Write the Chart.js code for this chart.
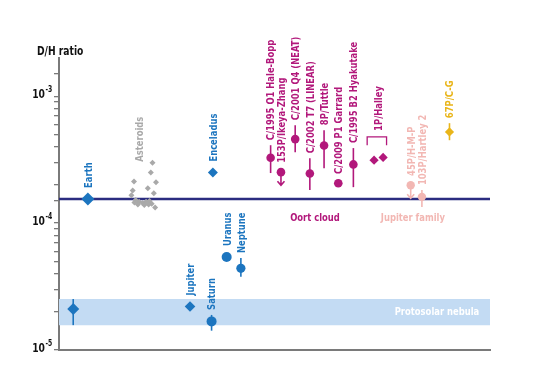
<!DOCTYPE html>
<html>
<head>
<meta charset="utf-8">
<script src="https://cdn.jsdelivr.net/npm/chart.js@4.4.1/dist/chart.umd.min.js"></script>
<style>
  html, body { margin: 0; padding: 0; background: #fff; }
  canvas { display: block; }
</style>
</head>
<body>
<canvas id="dh-chart" width="552" height="379"></canvas>
<script>
// D/H ratio of water (and H2 for the nebula / giant planets)
// x is only a slot along the horizontal axis (no units)

// solar system bodies
const bodyNames = ['', 'Earth', 'Jupiter', 'Saturn', 'Uranus', 'Neptune', 'Enceladus'];
const bodyX     = [3.3, 6.7, 30.4, 35.4, 38.9, 42.2, 35.7];
const bodyDH    = [2.1e-5, 1.55e-4, 2.2e-5, 1.68e-5, 5.4e-5, 4.4e-5, 2.5e-4];
const bodyLo    = [1.57e-5, null, null, 1.42e-5, null, 3.78e-5, null];
const bodyHi    = [2.52e-5, null, null, 1.89e-5, null, 5.3e-5, null];

// asteroids (carbonaceous chondrites)
const asteroidX  = [21.7, 21.3, 22.5, 17.4, 17.1, 20.6, 22.0, 16.8, 17.8, 18.6, 19.4, 20.2, 21.0, 18.3, 19.8, 21.5, 22.3, 17.5, 20.8];
const asteroidDH = [2.99e-4, 2.51e-4, 2.1e-4, 2.13e-4, 1.81e-4, 1.88e-4, 1.72e-4, 1.66e-4, 1.52e-4, 1.47e-4, 1.44e-4, 1.47e-4, 1.49e-4, 1.4e-4, 1.39e-4, 1.42e-4, 1.33e-4, 1.45e-4, 1.4e-4];

// Oort cloud comets
const oortNames = ['C/1995 O1 Hale-Bopp', '153P/Ikeya-Zhang', 'C/2001 Q4 (NEAT)', 'C/2002 T7 (LINEAR)', '8P/Tuttle', 'C/2009 P1 Garrard', 'C/1995 B2 Hyakutake'];
const oortX     = [49.1, 51.5, 54.8, 58.2, 61.5, 64.8, 68.3];
const oortDH    = [3.27e-4, 2.52e-4, 4.59e-4, 2.46e-4, 4.09e-4, 2.06e-4, 2.9e-4];
const oortLo    = [2.48e-4, null, 3.62e-4, 1.82e-4, 2.71e-4, null, 1.92e-4];
const oortHi    = [4.11e-4, null, 5.91e-4, 3.25e-4, 5.4e-4, null, 3.9e-4];
const oortUpper = [false, true, false, false, false, false, false];

// 1P/Halley (two measurements)
const halleyX  = [73.1, 75.2];
const halleyDH = [3.13e-4, 3.29e-4];

// Jupiter family comets
const jfcNames = ['45P/H-M-P', '103P/Hartley 2'];
const jfcX     = [81.6, 84.2];
const jfcDH    = [1.99e-4, 1.61e-4];
const jfcLo    = [null, 1.34e-4];
const jfcHi    = [null, 1.82e-4];
const jfcUpper = [true, false];

// 67P/Churyumov-Gerasimenko (Rosetta)
const cgX  = [90.6];
const cgDH = [5.23e-4];
const cgLo = [4.5e-4];
const cgHi = [6.13e-4];

// reference levels
const earthDH = 1.55e-4;
const nebulaLo = 1.57e-5;
const nebulaHi = 2.52e-5;

// y axis
const yMin = 1e-5;
const yMax = 2e-3;
const yTickExps = [-5, -4, -3];

const BLUE = '#1c75bf';
const MAGENTA = '#b2187b';
const PINK = '#f2b7b3';
const GOLD = '#e9b51a';
const GREY = '#a9a9a9';
const NAVY = '#2b2c80';
const FAMILY = "'DejaVu Sans Condensed', 'DejaVu Sans', sans-serif";
const LABEL_FONT = 'bold 11px ' + FAMILY;
const SQUEEZE = 0.85;   // narrow the condensed font a bit more

function pts(xs, ys) {
    return xs.map((x, i) => ({x: x, y: ys[i]}));
}

const bodyStyle  = ['rectRot', 'rectRot', 'rectRot', 'circle', 'circle', 'circle', 'rectRot'];
const bodyRadius = [6, 6.5, 5.3, 5, 5, 4.6, 5];

const datasets = [
    {label: 'bodies', data: pts(bodyX, bodyDH), backgroundColor: BLUE, borderWidth: 0,
     pointStyle: bodyStyle, pointRadius: bodyRadius},
    {label: 'asteroids', data: pts(asteroidX, asteroidDH), backgroundColor: GREY, borderWidth: 0,
     pointStyle: 'rectRot', pointRadius: 3},
    {label: 'oort', data: pts(oortX, oortDH), backgroundColor: MAGENTA, borderWidth: 0,
     pointStyle: 'circle', pointRadius: 4.3},
    {label: 'halley', data: pts(halleyX, halleyDH), backgroundColor: MAGENTA, borderWidth: 0,
     pointStyle: 'rectRot', pointRadius: 4.6},
    {label: 'jfc', data: pts(jfcX, jfcDH), backgroundColor: PINK, borderWidth: 0,
     pointStyle: 'circle', pointRadius: 4.2},
    {label: '67P', data: pts(cgX, cgDH), backgroundColor: GOLD, borderWidth: 0,
     pointStyle: 'rectRot', pointRadius: 4.6},
    // Earth ocean water (VSMOW)
    {type: 'line', label: 'earth', data: [{x: 0, y: earthDH}, {x: 100, y: earthDH}],
     borderColor: NAVY, borderWidth: 2.5, pointRadius: 0, fill: false},
    // protosolar band
    {type: 'line', label: 'nebulaHi', data: [{x: 0, y: nebulaHi}, {x: 100, y: nebulaHi}],
     borderWidth: 0, pointRadius: 0, fill: '+1', backgroundColor: '#c3dbf3'},
    {type: 'line', label: 'nebulaLo', data: [{x: 0, y: nebulaLo}, {x: 100, y: nebulaLo}],
     borderWidth: 0, pointRadius: 0, fill: false}
];

function vLabel(ctx, text, x, yBottom, color) {
    ctx.save();
    ctx.translate(x, yBottom);
    ctx.rotate(-Math.PI / 2);
    ctx.scale(SQUEEZE, 1);
    ctx.font = LABEL_FONT;
    ctx.fillStyle = color;
    ctx.textAlign = 'left';
    ctx.textBaseline = 'middle';
    ctx.fillText(text, 0, 1);
    ctx.restore();
}

function hLabel(ctx, text, x, y, color, align, font) {
    ctx.save();
    ctx.translate(x, y);
    ctx.scale(SQUEEZE, 1);
    ctx.font = font || LABEL_FONT;
    ctx.fillStyle = color;
    ctx.textAlign = align || 'center';
    ctx.textBaseline = 'middle';
    ctx.fillText(text, 0, 0);
    ctx.restore();
}

function errBar(ctx, x, y1, y2, color) {
    ctx.save();
    ctx.strokeStyle = color;
    ctx.lineWidth = 1.6;
    ctx.beginPath();
    ctx.moveTo(x, y1);
    ctx.lineTo(x, y2);
    ctx.stroke();
    ctx.restore();
}

function upperArrow(ctx, x, y, color) {
    ctx.save();
    ctx.strokeStyle = color;
    ctx.lineWidth = 1.6;
    ctx.beginPath();
    ctx.moveTo(x, y);
    ctx.lineTo(x, y + 13);
    ctx.moveTo(x - 3.5, y + 9);
    ctx.lineTo(x, y + 13);
    ctx.lineTo(x + 3.5, y + 9);
    ctx.stroke();
    ctx.restore();
}

const annotations = {
    id: 'annotations',
    afterDatasetsDraw(chart) {
        const ctx = chart.ctx;
        const xs = chart.scales.x, ys = chart.scales.y;
        const gap = 5;

        function group(names, X, V, lo, hi, upper, radius, color) {
            X.forEach((xv, i) => {
                const px = xs.getPixelForValue(xv);
                const py = ys.getPixelForValue(V[i]);
                let top = py - radius;
                if (lo && lo[i] != null) {
                    const pHi = ys.getPixelForValue(hi[i]);
                    errBar(ctx, px, ys.getPixelForValue(lo[i]), pHi, color);
                    top = Math.min(top, pHi);
                }
                if (upper && upper[i]) upperArrow(ctx, px, py, color);
                if (names && names[i]) vLabel(ctx, names[i], px, top - gap, color);
            });
        }

        group(bodyNames, bodyX, bodyDH, bodyLo, bodyHi, null, 6, BLUE);
        group(oortNames, oortX, oortDH, oortLo, oortHi, oortUpper, 4.3, MAGENTA);
        group(jfcNames, jfcX, jfcDH, jfcLo, jfcHi, jfcUpper, 4.2, PINK);
        group(['67P/C-G'], cgX, cgDH, cgLo, cgHi, null, 4.6, GOLD);

        // asteroids label over the cloud
        const aTop = ys.getPixelForValue(Math.max(...asteroidDH));
        vLabel(ctx, 'Asteroids', xs.getPixelForValue(18.6), aTop - 1, GREY);

        // Halley bracket + label
        const bx1 = xs.getPixelForValue(71.5), bx2 = xs.getPixelForValue(76.0);
        const by1 = ys.getPixelForValue(4.78e-4), by2 = ys.getPixelForValue(4.11e-4);
        ctx.save();
        ctx.strokeStyle = MAGENTA;
        ctx.lineWidth = 1.3;
        ctx.beginPath();
        ctx.moveTo(bx1, by2);
        ctx.lineTo(bx1, by1);
        ctx.lineTo(bx2, by1);
        ctx.lineTo(bx2, by2);
        ctx.stroke();
        ctx.restore();
        vLabel(ctx, '1P/Halley', (bx1 + bx2) / 2 + 1, by1 - 6, MAGENTA);

        // group captions
        hLabel(ctx, 'Oort cloud', xs.getPixelForValue(59.4), ys.getPixelForValue(1.09e-4), MAGENTA);
        hLabel(ctx, 'Jupiter family', xs.getPixelForValue(82.1), ys.getPixelForValue(1.1e-4), PINK);
        hLabel(ctx, 'Protosolar nebula', xs.getPixelForValue(87.7),
               ys.getPixelForValue(Math.sqrt(nebulaLo * nebulaHi)), '#ffffff');

        // y axis title and tick labels
        hLabel(ctx, 'D/H ratio', 37, 52, '#111', 'left', 'bold 12px ' + FAMILY);
        yTickExps.forEach(e => {
            const py = ys.getPixelForValue(Math.pow(10, e));
            hLabel(ctx, '10', 45, py - 1, '#111', 'right', 'bold 12px ' + FAMILY);
            hLabel(ctx, '-' + Math.abs(e), 45.5, py - 6, '#111', 'left', 'bold 8px ' + FAMILY);
        });
    }
};

const config = {
    type: 'scatter',
    data: {datasets: datasets},
    options: {
        responsive: false,
        animation: false,
        events: [],
        layout: {padding: {left: 0, top: 58, right: 62, bottom: 29}},
        plugins: {
            legend: {display: false},
            tooltip: {enabled: false},
            title: {display: false}
        },
        scales: {
            x: {
                type: 'linear', min: 0, max: 100,
                ticks: {display: false},
                grid: {display: false},
                border: {display: true, color: '#7a7a7a', width: 2},
                afterFit: s => { s.height = 0; }
            },
            y: {
                type: 'logarithmic', min: yMin, max: yMax,
                ticks: {
                    padding: 0,
                    font: {size: 1},
                    callback: v => (v >= yMax ? null : '')
                },
                grid: {drawOnChartArea: false, drawTicks: true, tickLength: 5, color: '#7a7a7a', lineWidth: 1.3},
                border: {display: true, color: '#7a7a7a', width: 2},
                afterFit: s => { s.width = 59; }
            }
        }
    },
    plugins: [annotations]
};

var myChart = new Chart(document.getElementById('dh-chart'), config);
</script>
</body>
</html>
